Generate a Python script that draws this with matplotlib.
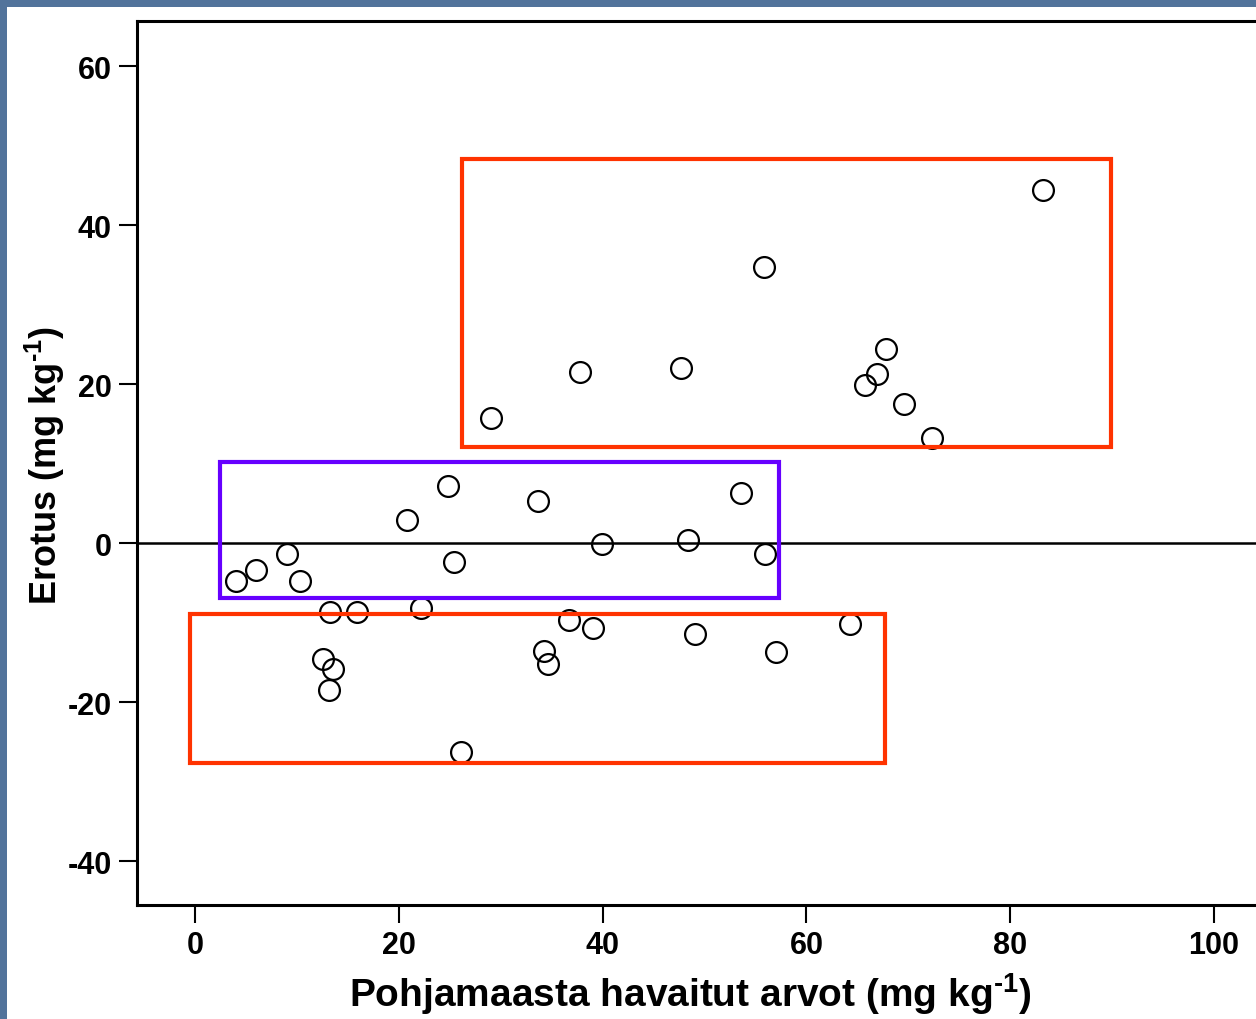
import matplotlib
matplotlib.use("Agg")
import matplotlib.pyplot as plt
from matplotlib.patches import Rectangle

havaitut = [83.2, 55.8, 37.8, 47.7, 29.0, 67.8, 66.9, 65.7, 69.6, 72.3,
            24.8, 20.8, 33.7, 53.6, 39.9, 48.4, 55.9, 9.0, 6.0, 4.0,
            10.3, 25.4, 13.2, 15.9, 22.2, 36.7, 39.0, 49.1, 64.3, 57.0,
            34.2, 34.6, 12.6, 13.5, 13.1, 26.1]
erotus = [44.5, 34.8, 21.6, 22.1, 15.8, 24.5, 21.3, 19.9, 17.5, 13.3,
          7.2, 2.9, 5.3, 6.3, -0.1, 0.4, -1.4, -1.3, -3.3, -4.8,
          -4.8, -2.3, -8.6, -8.7, -8.1, -9.6, -10.7, -11.4, -10.2, -13.7,
          -13.5, -15.2, -14.6, -15.8, -18.5, -26.2]

x_ticks = [0, 20, 40, 60, 80, 100]
y_ticks = [-40, -20, 0, 20, 40, 60]

# highlight boxes: (x0, x1, y0, y1) in data units
box_high = (26.15, 89.9, 12.1, 48.3)
box_mid = (2.45, 57.3, -6.9, 10.2)
box_low = (-0.5, 67.7, -27.7, -8.9)

plt.rcParams["mathtext.fontset"] = "custom"
plt.rcParams["mathtext.rm"] = "Liberation Sans:bold"
plt.rcParams["mathtext.bf"] = "Liberation Sans:bold"

W, H = 1256, 1020
fig = plt.figure(figsize=(W / 100, H / 100), dpi=100)
fig.patch.set_facecolor("#52739b")
fig.patches.append(Rectangle((7 / W, 0), 1, 1 - 8 / H, transform=fig.transFigure,
                             facecolor="white", edgecolor="none", zorder=-10))

left, right, top, bottom = 137, 1262, 22, 906
ax = fig.add_axes([left / W, (H - bottom) / H, (right - left) / W, (bottom - top) / H])
ax.set_xlim(-5.7, 104.7)
ax.set_ylim(-45.5, 65.7)

ax.axhline(0, color="black", lw=1.8, zorder=1)
ax.plot(havaitut, erotus, linestyle="none", marker="o", markersize=15,
        markerfacecolor="none", markeredgecolor="black", markeredgewidth=1.6, zorder=2)

for (x0, x1, y0, y1), col in [(box_high, "#ff3300"), (box_mid, "#6600ff"), (box_low, "#ff3300")]:
    ax.add_patch(Rectangle((x0, y0), x1 - x0, y1 - y0, fill=False, edgecolor=col,
                           lw=3.0, zorder=3))

for s in ax.spines.values():
    s.set_linewidth(2.2)

tick_font = {"family": ["Liberation Sans Narrow", "Liberation Sans", "DejaVu Sans"],
             "weight": "bold", "size": 22}
ax.set_xticks(x_ticks)
ax.set_yticks(y_ticks)
ax.set_xticklabels([str(v) for v in x_ticks], fontdict=tick_font)
ax.set_yticklabels([str(v) for v in y_ticks], fontdict=tick_font)
ax.tick_params(direction="out", length=13, width=1.5, pad=5)

fig.text(690 / W, 1 - 1007 / H, "Pohjamaasta havaitut arvot (mg kg$^{\\text{-1}}$)",
         ha="center", va="baseline", fontsize=28, fontweight="bold",
         family=["Liberation Sans Narrow", "Liberation Sans", "DejaVu Sans"])
fig.text(57 / W, 1 - 466 / H, "Erotus (mg kg$^{\\text{-1}}$)", rotation=90,
         rotation_mode="anchor", ha="center", va="baseline", fontsize=26,
         fontweight="bold", family=["Liberation Sans", "DejaVu Sans"])

fig.savefig("out.png", dpi=100)
